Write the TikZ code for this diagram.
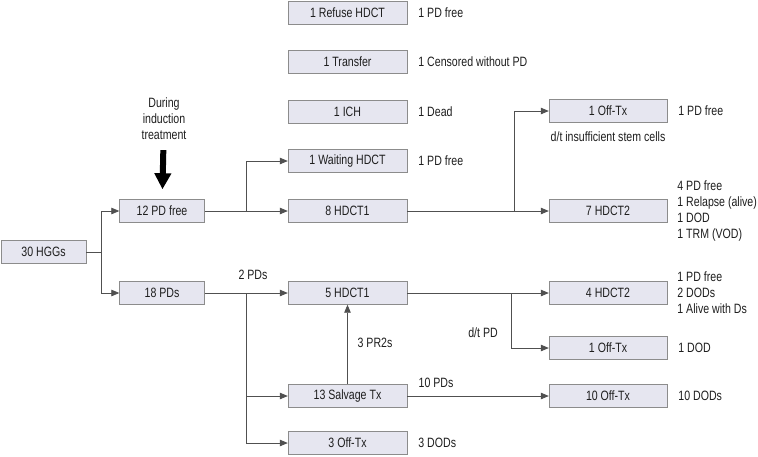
\documentclass[tikz,border=0pt]{standalone}
\usepackage{fontspec}
\setmainfont{Liberation Sans}[FakeStretch=0.785]
\usepackage{xcolor}
\usepackage{tikz}
\usetikzlibrary{arrows.meta,positioning}

\definecolor{boxfill}{HTML}{E6E6F0}
\definecolor{boxline}{HTML}{8C8C8C}
\definecolor{linkgray}{HTML}{505050}
\definecolor{textgray}{HTML}{1E1E1E}

\begin{document}
\begin{tikzpicture}[
    x=1pt, y=-1pt,
    font=\fontsize{13.5}{16}\selectfont, text=textgray,
    box/.style={rectangle, draw=boxline, fill=boxfill, minimum width=119pt, minimum height=23pt, inner sep=0pt},
    smallbox/.style={box, minimum width=85pt},
    note/.style={align=left, inner sep=0pt},
    line/.style={draw=linkgray, line width=0.8pt},
    arrow/.style={line, -{Triangle[length=8pt,width=6.5pt]}},
    bigarrow/.style={draw=black, line width=6pt, -{Triangle[length=16pt,width=16pt]}}
]
    \useasboundingbox[fill=white] (0,0) rectangle (758,456);

    % Left part
    \node[smallbox] (hgg) at (43.5,252) {30 HGGs};
    \node[smallbox] (free) at (162,211) {12 PD free};
    \node[smallbox] (pd) at (162,293) {18 PDs};
    \node[note, align=center] (during) at (164,119) {During\\induction\\treatment};

    % Middle column
    \node[box] (refuse) at (347.5,13) {1 Refuse HDCT};
    \node[box] (transfer) at (347.5,62) {1 Transfer};
    \node[box] (ich) at (347.5,112) {1 ICH};
    \node[box] (wait) at (347.5,161) {1 Waiting HDCT};
    \node[box] (hdcta) at (347.5,211) {8 HDCT1};
    \node[box] (hdctc) at (347.5,293) {5 HDCT1};
    \node[box] (salv) at (347.5,396) {13 Salvage Tx};
    \node[box] (offd) at (347.5,443) {3 Off-Tx};

    % Right column
    \node[box, minimum width=118pt] (offa) at (608,111) {1 Off-Tx};
    \node[box, minimum width=118pt] (hdctb) at (608,211) {7 HDCT2};
    \node[box, minimum width=118pt] (hdctd) at (608,293) {4 HDCT2};
    \node[box, minimum width=118pt] (offb) at (608,348) {1 Off-Tx};
    \node[box, minimum width=118pt] (offc) at (608,396) {10 Off-Tx};

    % Outcomes
    \node[note, right=11pt of refuse] (o1) {1 PD free};
    \node[note, right=11pt of transfer] (o2) {1 Censored without PD};
    \node[note, right=11pt of ich] (o3) {1 Dead};
    \node[note, right=11pt of wait] (o4) {1 PD free};
    \node[note, right=11pt of offd] (o5) {3 DODs};
    \node[note, right=11pt of offa] (o6) {1 PD free};
    \node[note, right=10pt of hdctb] (o7) {4 PD free\\1 Relapse (alive)\\1 DOD\\1 TRM (VOD)};
    \node[note, right=10pt of hdctd] (o8) {1 PD free\\2 DODs\\1 Alive with Ds};
    \node[note, right=11pt of offb] (o9) {1 DOD};
    \node[note, right=11pt of offc] (o10) {10 DODs};

    % Junctions
    \coordinate (hj) at (101,252);
    \coordinate (fj) at (246,211);
    \coordinate (pj) at (246,293);
    \coordinate (aj) at (514,211);
    \coordinate (cj) at (511,293);

    % Connectors
    \draw[line] (hgg) -- (hj);
    \draw[arrow] (hj) |- (free);
    \draw[arrow] (hj) |- (pd);
    \draw[bigarrow, shorten <=10pt, shorten >=10pt] (during) -- (free);

    \draw[arrow] (free) -- (hdcta);
    \draw[arrow] (fj) |- (wait);
    \draw[arrow] (hdcta) -- (hdctb);
    \draw[arrow] (aj) |- (offa);

    \draw[arrow] (pd) -- (hdctc);
    \draw[line] (pj) -- (246,443);
    \draw[arrow] (pj) |- (salv);
    \draw[arrow] (pj) |- (offd);
    \draw[arrow] (salv) -- (hdctc);
    \draw[arrow] (hdctc) -- (hdctd);
    \draw[arrow] (cj) |- (offb);
    \draw[arrow] (salv) -- (offc);

    % Connector labels
    \node[note] (l1) at (253,275) {2 PDs};
    \node[note] (l2) at (375,343) {3 PR2s};
    \node[note] (l3) at (483,333) {d/t PD};
    \node[note] (l4) at (436,383) {10 PDs};
    \node[note] (l5) at (608,137) {d/t insufficient stem cells};

\end{tikzpicture}
\end{document}
